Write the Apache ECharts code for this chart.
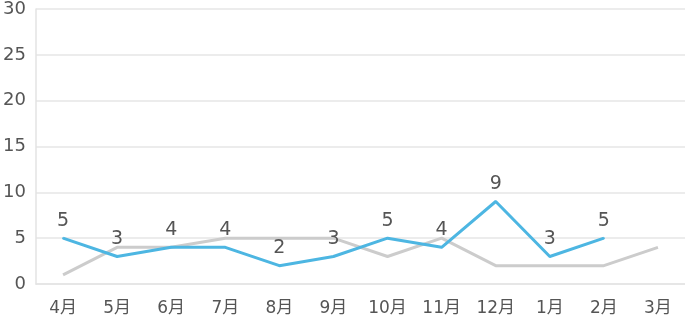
<!DOCTYPE html>
<html><head><meta charset="utf-8">
<script src="https://cdn.jsdelivr.net/npm/echarts@6/dist/echarts.min.js"></script>
<style>html,body{margin:0;padding:0;background:#fff}#c{width:685px;height:323px}</style>
</head><body><div id="c"></div>
<script>
var categories = ['4月','5月','6月','7月','8月','9月','10月','11月','12月','1月','2月','3月'];
var graySeries = [1,4,4,5,5,5,3,5,2,2,2,4];
var blueSeries = [5,3,4,4,2,3,5,4,9,3,5,null];
var yTicks = {min:0, max:30, interval:5};
var chart = echarts.init(document.getElementById('c'));
var font = '"DejaVu Sans ExtraLight", "DejaVu Sans", "Noto Sans CJK JP", sans-serif';
chart.setOption({
  animation:false,
  grid:{left:36, right:0, top:8, bottom:39},
  xAxis:{type:'category', data:categories, boundaryGap:true,
    axisLine:{lineStyle:{color:'#e3e3e3', width:1.5}}, axisTick:{show:false},
    axisLabel:{color:'#555', fontSize:17, fontFamily:font, margin:16}},
  yAxis:{type:'value', min:yTicks.min, max:yTicks.max, interval:yTicks.interval,
    axisLine:{show:true, lineStyle:{color:'#e3e3e3', width:1.5}}, axisTick:{show:false},
    splitLine:{lineStyle:{color:'#e6e6e6', width:1.5}},
    axisLabel:{color:'#555', fontSize:18, fontFamily:font, margin:10}},
  series:[
    {type:'line', data:graySeries, symbol:'none',
      lineStyle:{color:'#cccccc', width:3}, z:2},
    {type:'line', data:blueSeries, symbol:'circle', symbolSize:2, showSymbol:true,
      itemStyle:{color:'#4db6e2'},
      lineStyle:{color:'#4db6e2', width:3}, z:3,
      label:{show:true, position:'top', distance:7, color:'#555', fontSize:19, fontFamily:font}}
  ]
});
</script></body></html>
